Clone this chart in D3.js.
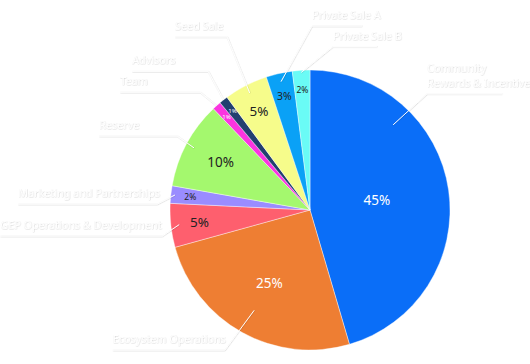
<!DOCTYPE html>
<html>
<head>
<meta charset="utf-8">
<script src="https://cdn.jsdelivr.net/npm/d3@7"></script>
<style>
  html, body { margin: 0; padding: 0; background: #ffffff; }
  svg { display: block; }
</style>
</head>
<body>
<svg id="chart" width="530" height="364"></svg>
<script>
// ---- data ----
const categories = [
  "Community\nRewards & Incentives",
  "Ecosystem Operations",
  "GEP Operations & Development",
  "Marketing and Partnerships",
  "Reserve",
  "Team",
  "Advisors",
  "Seed Sale",
  "Private Sale A",
  "Private Sale B"
];
const values = [45, 25, 5, 2, 10, 1, 1, 5, 3, 2];

// ---- styling ----
const colors = ["#0a6ef8", "#ee7e33", "#fe5f6e", "#9a8cff", "#a4f86e",
                "#fb35e0", "#223f70", "#f6fc8b", "#0aa1f6", "#6afbf6"];
const pctInk = ["#ffffff", "#ffffff", "#222222", "#222222", "#222222",
                "#ffffff", "#ffffff", "#222222", "#222222", "#222222"];

// label layout (polar, degrees clockwise from 12 o'clock, relative to pie)
const labelLayout = [
  {inA: 44.3, inR: 0.85, elA: 45.2,  elR: 165, len: 75,  side: "right"},
  {inA: null, inR: 0.82, elA: 211.3, elR: 164, len: 112, side: "left"},
  {inA: null, inR: 0.94, elA: 260.0, elR: 150, len: 162, side: "left"},
  {inA: null, inR: 0.97, elA: 272.2, elR: 153, len: 139, side: "left"},
  {inA: null, inR: 0.94, elA: 299.1, elR: 152, len: 78,  side: "left"},
  {inA: null, inR: 1.00, elA: 317.0, elR: 161, len: 80,  side: "left"},
  {inA: null, inR: 1.00, elA: 323.7, elR: 172, len: 76,  side: "left"},
  {inA: null, inR: 0.94, elA: 334.4, elR: 192, len: 52,  side: "left"},
  {inA: null, inR: 0.94, elA: 0.6,   elR: 184, len: 50,  side: "right"},
  {inA: null, inR: 0.985,elA: 8.0,   elR: 165, len: 44,  side: "right"}
];

const W = 530, H = 364;
const cx = 310, cy = 210, R = 140;

const svg = d3.select("#chart");
const defs = svg.append("defs");
const f = defs.append("filter").attr("id", "shadow")
  .attr("x", "-20%").attr("y", "-50%").attr("width", "140%").attr("height", "200%");
f.append("feDropShadow").attr("dx", 0.3).attr("dy", 0.3)
  .attr("stdDeviation", 0.6).attr("flood-color", "#000").attr("flood-opacity", 0.28);

const g = svg.append("g").attr("transform", `translate(${cx},${cy})`);

const data = categories.map((c, i) => ({name: c, value: values[i], i}));
const pie = d3.pie().value(d => d.value).sort(null).startAngle(0).endAngle(2 * Math.PI);
const arcs = pie(data);
const total = d3.sum(values);

const arc = d3.arc().innerRadius(0).outerRadius(R);

g.selectAll("path.slice").data(arcs).join("path")
  .attr("class", "slice")
  .attr("d", arc)
  .attr("fill", d => colors[d.data.i])
  .attr("stroke", "#ffffff")
  .attr("stroke-width", 0.4);

// percent labels inside slices
g.selectAll("text.pct").data(arcs).join("text")
  .attr("class", "pct")
  .each(function(d) {
    const frac = d.data.value / total;
    const r = R * (1 - 0.72 * Math.pow(frac, 0.42));
    const c = d3.arc().innerRadius(r).outerRadius(r).centroid(d);
    const fs = Math.min(13.5, 60 * Math.sqrt(frac));
    d3.select(this)
      .attr("x", c[0]).attr("y", c[1])
      .attr("font-size", fs)
      .text(Math.round(frac * 100) + "%");
  })
  .attr("text-anchor", "middle")
  .attr("dominant-baseline", "central")
  .attr("font-family", "'Noto Sans', 'Open Sans', sans-serif")
  .attr("fill", d => pctInk[d.data.i]);

// outer labels with leader lines
const polar = (deg, r) => {
  const a = deg * Math.PI / 180;
  return [r * Math.sin(a), -r * Math.cos(a)];
};
const lab = g.append("g").attr("filter", "url(#shadow)");
arcs.forEach(d => {
  const L = labelLayout[d.data.i];
  const midDeg = (d.startAngle + d.endAngle) / 2 * 180 / Math.PI;
  const p0 = polar(L.inA == null ? midDeg : L.inA, R * L.inR);
  const p1 = polar(L.elA, L.elR);
  const p2 = [L.side === "left" ? p1[0] - L.len : p1[0] + L.len, p1[1]];
  lab.append("path")
    .attr("d", d3.line()([p0, p1, p2]))
    .attr("fill", "none")
    .attr("stroke", "#ffffff")
    .attr("stroke-width", 1);
  const lines = d.data.name.split("\n");
  const tx = L.side === "left" ? p2[0] : p1[0];
  const t = lab.append("text")
    .attr("font-family", "'Noto Sans', 'Open Sans', sans-serif")
    .attr("font-size", 10.8)
    .attr("fill", "#ffffff")
    .attr("text-anchor", "start");
  lines.forEach((ln, k) => {
    t.append("tspan")
      .attr("x", tx)
      .attr("y", p1[1] - 7 - (lines.length - 1 - k) * 15)
      .text(ln);
  });
});
</script>
</body>
</html>
